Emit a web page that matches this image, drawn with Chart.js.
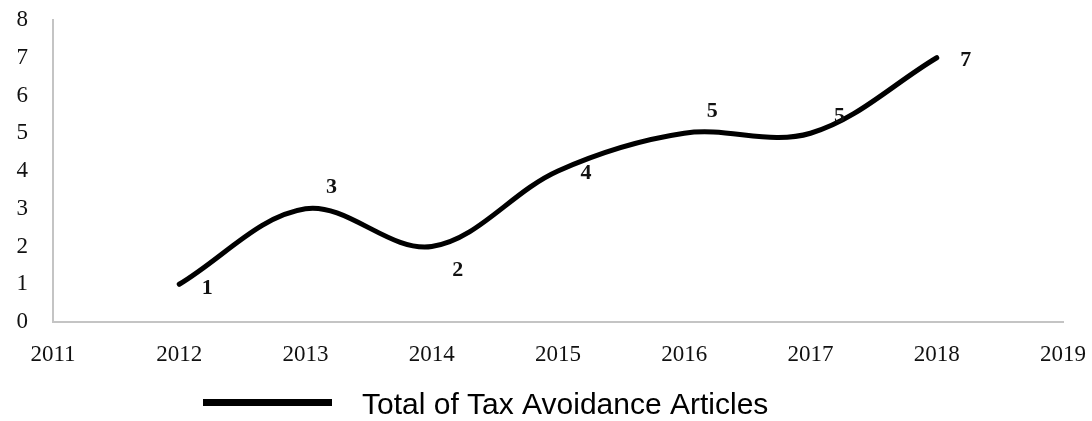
<!DOCTYPE html>
<html><head><meta charset="utf-8">
<script src="https://cdn.jsdelivr.net/npm/chart.js@4"></script>
<style>html,body{margin:0;padding:0;background:#fff}#wrap{width:1092px;height:421px}</style>
</head><body><div id="wrap"><canvas id="c" width="1092" height="421"></canvas></div>
<script>
const years = [2012, 2013, 2014, 2015, 2016, 2017, 2018];
const articles = [1, 3, 2, 4, 5, 5, 7];
const seriesName = 'Total of Tax Avoidance Articles';
const xMin = 2011, xMax = 2019;
const yMin = 0, yMax = 8;

const labelOffsets = [[28,4],[26,-21],[26,24],[28,2],[28,-22],[29,-17],[29,3]];
const serif = '"Liberation Serif", "Times New Roman", serif';

const dataLabels = {
  id: 'dataLabels',
  afterDatasetsDraw(chart) {
    const ctx = chart.ctx;
    const meta = chart.getDatasetMeta(0);
    ctx.save();
    ctx.font = 'bold 22px ' + serif;
    ctx.fillStyle = '#111';
    ctx.textAlign = 'center';
    ctx.textBaseline = 'middle';
    meta.data.forEach((pt, i) => {
      const o = labelOffsets[i];
      ctx.fillText(String(articles[i]), pt.x + o[0], pt.y + o[1]);
    });
    ctx.restore();
  }
};

const customLegend = {
  id: 'customLegend',
  afterDraw(chart) {
    const ctx = chart.ctx;
    ctx.save();
    ctx.fillStyle = '#000';
    ctx.fillRect(203, 399, 129, 7);
    ctx.font = '30px "Liberation Sans", Arial, sans-serif';
    ctx.textAlign = 'left';
    ctx.textBaseline = 'middle';
    ctx.fillText(seriesName, 362, 406);
    ctx.restore();
  }
};

new Chart(document.getElementById('c'), {
  type: 'line',
  data: {
    datasets: [{
      label: seriesName,
      data: years.map((y, i) => ({x: y, y: articles[i]})),
      borderColor: '#000',
      backgroundColor: '#000',
      borderWidth: 5,
      pointRadius: 0,
      tension: 0.35,
      fill: false,
      borderCapStyle: 'round'
    }]
  },
  options: {
    responsive: false,
    animation: false,
    layout: {padding: {left: 0, right: 29, top: 20, bottom: 0}},
    plugins: {legend: {display: false}, tooltip: {enabled: false}},
    scales: {
      x: {
        type: 'linear', min: xMin, max: xMax,
        grid: {display: false, drawTicks: false},
        border: {display: true, color: '#c4c4c4', width: 2},
        ticks: {stepSize: 1, padding: 19, color: '#111',
          font: {family: serif, size: 23},
          callback: v => String(v)},
        afterFit: s => { s.height = 99; s.paddingLeft = 0; s.paddingRight = 0; }
      },
      y: {
        min: yMin, max: yMax,
        grid: {display: false, drawTicks: false},
        border: {display: true, color: '#c4c4c4', width: 2},
        ticks: {stepSize: 1, padding: 25, color: '#111',
          font: {family: serif, size: 23}},
        afterFit: s => { s.width = 53; s.paddingTop = 0; s.paddingBottom = 0; }
      }
    }
  },
  plugins: [dataLabels, customLegend]
});
</script></body></html>
